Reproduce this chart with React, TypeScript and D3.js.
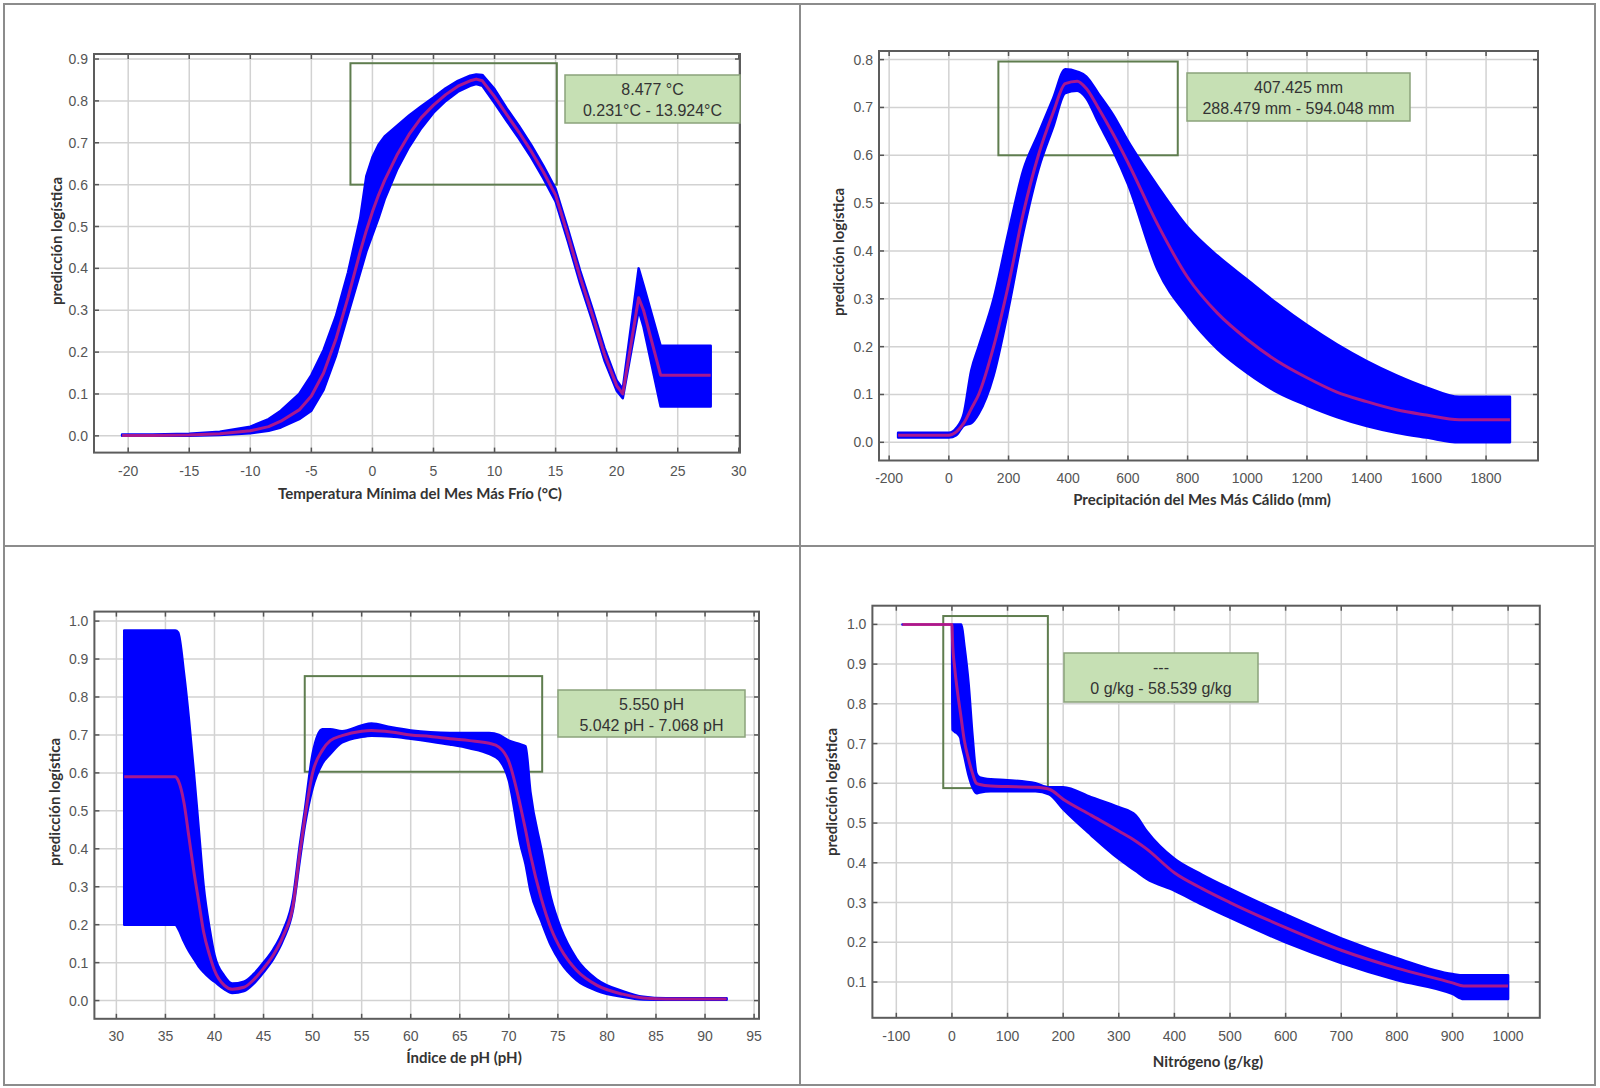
import * as d3 from 'd3';
import React, { useRef, useEffect } from 'react';

// --- Temperatura Mínima del Mes Más Frío (°C) ---
const tempX = [-20.5, -18, -15, -12.5, -10, -8.5, -7.5, -6, -5, -4, -3, -2, -1, -0.5, 0, 0.5, 1, 2, 3, 4, 5, 6, 7, 8, 8.5, 9, 10, 11, 12, 13, 14, 15, 16, 17, 18, 19, 20, 20.5, 21.8, 22.2, 23.6, 27.7];
const tempMean = [0.001, 0.001, 0.002, 0.005, 0.012, 0.022, 0.035, 0.062, 0.095, 0.15, 0.23, 0.33, 0.44, 0.49, 0.535, 0.575, 0.61, 0.67, 0.72, 0.76, 0.79, 0.815, 0.835, 0.848, 0.852, 0.848, 0.81, 0.767, 0.725, 0.68, 0.63, 0.575, 0.48, 0.38, 0.29, 0.195, 0.12, 0.1, 0.33, 0.3, 0.145, 0.145];
const tempLow = [0, 0, 0, 0.002, 0.006, 0.012, 0.02, 0.04, 0.06, 0.11, 0.19, 0.29, 0.39, 0.44, 0.48, 0.52, 0.565, 0.635, 0.69, 0.735, 0.772, 0.8, 0.822, 0.836, 0.84, 0.836, 0.795, 0.752, 0.71, 0.665, 0.615, 0.56, 0.465, 0.365, 0.275, 0.18, 0.108, 0.09, 0.3, 0.26, 0.07, 0.07];
const tempHigh = [0.003, 0.003, 0.005, 0.01, 0.022, 0.04, 0.06, 0.1, 0.145, 0.205, 0.285, 0.39, 0.52, 0.62, 0.665, 0.695, 0.715, 0.74, 0.765, 0.787, 0.808, 0.83, 0.848, 0.86, 0.863, 0.862, 0.828, 0.782, 0.74, 0.695, 0.645, 0.59, 0.495, 0.395, 0.305, 0.21, 0.132, 0.112, 0.4, 0.36, 0.215, 0.215];
const tempXTicks = [-20, -15, -10, -5, 0, 5, 10, 15, 20, 25, 30];
const tempYTicks = [0, 0.1, 0.2, 0.3, 0.4, 0.5, 0.6, 0.7, 0.8, 0.9];
const tempBox = [-1.8, 15.1, 0.6, 0.89];
const tempLabel = ['8.477 °C', '0.231°C - 13.924°C'];

// --- Precipitación del Mes Más Cálido (mm) ---
const precX = [-170, 0, 25, 50, 75, 100, 150, 200, 250, 300, 350, 390, 430, 460, 500, 550, 600, 700, 800, 900, 1000, 1100, 1200, 1300, 1400, 1500, 1600, 1710, 1880];
const precMean = [0.015, 0.015, 0.022, 0.04, 0.07, 0.1, 0.2, 0.33, 0.48, 0.6, 0.69, 0.75, 0.755, 0.74, 0.7, 0.645, 0.585, 0.455, 0.345, 0.27, 0.215, 0.17, 0.135, 0.105, 0.085, 0.068, 0.057, 0.047, 0.047];
const precLow = [0.01, 0.01, 0.015, 0.035, 0.04, 0.06, 0.14, 0.28, 0.44, 0.57, 0.66, 0.73, 0.735, 0.72, 0.67, 0.61, 0.54, 0.36, 0.265, 0.195, 0.145, 0.105, 0.077, 0.053, 0.034, 0.02, 0.01, 0, 0];
const precHigh = [0.02, 0.02, 0.03, 0.06, 0.15, 0.2, 0.3, 0.44, 0.57, 0.645, 0.72, 0.78, 0.775, 0.765, 0.73, 0.685, 0.63, 0.535, 0.45, 0.39, 0.34, 0.29, 0.245, 0.205, 0.17, 0.14, 0.115, 0.095, 0.095];
const precXTicks = [-200, 0, 200, 400, 600, 800, 1000, 1200, 1400, 1600, 1800];
const precYTicks = [0, 0.1, 0.2, 0.3, 0.4, 0.5, 0.6, 0.7, 0.8];
const precBox = [166, 767, 0.6, 0.796];
const precLabel = ['407.425 mm', '288.479 mm - 594.048 mm'];

// --- Índice de pH (pH) ---
const phX = [30.8, 36.0, 36.3, 36.9, 37.4, 37.9, 38.4, 38.9, 39.5, 40, 41, 41.8, 43, 44, 45, 46, 47, 48, 48.7, 49.2, 50, 51, 51.8, 53, 55, 56, 58, 60, 62, 64, 66, 68, 69, 70, 71.2, 71.7, 72.2, 73.3, 74.3, 75.3, 76.9, 79, 81.6, 83.7, 86, 92.2];
const phMean = [0.59, 0.59, 0.58, 0.52, 0.43, 0.34, 0.26, 0.18, 0.12, 0.08, 0.04, 0.03, 0.035, 0.055, 0.085, 0.12, 0.17, 0.25, 0.39, 0.48, 0.6, 0.66, 0.685, 0.698, 0.71, 0.712, 0.708, 0.7, 0.696, 0.69, 0.685, 0.678, 0.668, 0.63, 0.51, 0.45, 0.385, 0.27, 0.19, 0.136, 0.08, 0.04, 0.017, 0.007, 0.004, 0.004];
const phLow = [0.2, 0.2, 0.19, 0.155, 0.13, 0.11, 0.09, 0.075, 0.06, 0.05, 0.03, 0.02, 0.025, 0.045, 0.075, 0.11, 0.16, 0.24, 0.37, 0.46, 0.56, 0.625, 0.65, 0.68, 0.695, 0.698, 0.696, 0.69, 0.683, 0.675, 0.665, 0.65, 0.635, 0.58, 0.41, 0.36, 0.29, 0.21, 0.145, 0.1, 0.054, 0.026, 0.01, 0.003, 0.002, 0.002];
const phHigh = [0.975, 0.975, 0.97, 0.86, 0.74, 0.6, 0.45, 0.3, 0.19, 0.12, 0.065, 0.045, 0.05, 0.07, 0.1, 0.135, 0.185, 0.27, 0.41, 0.5, 0.65, 0.715, 0.715, 0.71, 0.725, 0.73, 0.72, 0.712, 0.707, 0.705, 0.705, 0.705, 0.7, 0.685, 0.675, 0.67, 0.55, 0.4, 0.27, 0.19, 0.11, 0.055, 0.025, 0.01, 0.006, 0.006];
const phXTicks = [30, 35, 40, 45, 50, 55, 60, 65, 70, 75, 80, 85, 90, 95];
const phYTicks = [0, 0.1, 0.2, 0.3, 0.4, 0.5, 0.6, 0.7, 0.8, 0.9, 1.0];
const phBox = [49.2, 73.4, 0.603, 0.855];
const phLabel = ['5.550 pH', '5.042 pH - 7.068 pH'];

// --- Nitrógeno (g/kg) ---
const nitX = [-89, 0, 1, 5, 10, 15, 17, 22, 30, 37, 44, 50, 70, 100, 150, 175, 200, 250, 300, 330, 350, 400, 450, 500, 600, 700, 800, 900, 920, 1000];
const nitMean = [1, 1, 0.96, 0.89, 0.83, 0.78, 0.76, 0.71, 0.66, 0.625, 0.6, 0.597, 0.593, 0.592, 0.59, 0.585, 0.56, 0.52, 0.48, 0.455, 0.435, 0.375, 0.335, 0.3, 0.237, 0.18, 0.135, 0.098, 0.09, 0.09];
const nitLow = [1, 1, 0.735, 0.73, 0.725, 0.715, 0.7, 0.67, 0.62, 0.59, 0.575, 0.577, 0.58, 0.58, 0.58, 0.572, 0.535, 0.47, 0.41, 0.38, 0.36, 0.33, 0.295, 0.262, 0.2, 0.148, 0.105, 0.07, 0.057, 0.057];
const nitHigh = [1, 1, 1, 1, 1, 1, 1, 0.95, 0.85, 0.72, 0.625, 0.615, 0.61, 0.608, 0.6, 0.59, 0.59, 0.565, 0.54, 0.52, 0.48, 0.41, 0.37, 0.335, 0.27, 0.21, 0.16, 0.12, 0.117, 0.117];
const nitXTicks = [-100, 0, 100, 200, 300, 400, 500, 600, 700, 800, 900, 1000];
const nitYTicks = [0.1, 0.2, 0.3, 0.4, 0.5, 0.6, 0.7, 0.8, 0.9, 1.0];
const nitBox = [-15.6, 172.5, 0.588, 1.021];
const nitLabel = ['---', '0 g/kg - 58.539 g/kg'];

const yTitle = 'predicción logística';

type Panel = {
  frame: number[];
  xDomain: number[];
  yDomain: number[];
  xTicks: number[];
  yTicks: number[];
  xs: number[];
  mean: number[];
  lo: number[];
  hi: number[];
  box: number[];
  labelRect: number[];
  labelLines: string[];
  xTitle: string;
  xTitlePos: number[];
  yTitlePos: number[];
  xTickY: number;
  smooth: boolean;
};

const panels: Panel[] = [
  {
    frame: [94, 54, 740, 452.6], xDomain: [-22.8, 30.1], yDomain: [-0.04, 0.912],
    xTicks: tempXTicks, yTicks: tempYTicks, xs: tempX, mean: tempMean, lo: tempLow, hi: tempHigh,
    box: tempBox, labelRect: [565, 75, 175, 48], labelLines: tempLabel,
    xTitle: 'Temperatura Mínima del Mes Más Frío (°C)', xTitlePos: [420, 493], yTitlePos: [56, 241], xTickY: 471,
    smooth: false,
  },
  {
    frame: [879, 51, 1538, 460.5], xDomain: [-234, 1974], yDomain: [-0.038, 0.818],
    xTicks: precXTicks, yTicks: precYTicks, xs: precX, mean: precMean, lo: precLow, hi: precHigh,
    box: precBox, labelRect: [1187, 73, 223, 48], labelLines: precLabel,
    xTitle: 'Precipitación del Mes Más Cálido (mm)', xTitlePos: [1202, 498.5], yTitlePos: [838, 252], xTickY: 478,
    smooth: true,
  },
  {
    frame: [94.4, 611.6, 759, 1018.8], xDomain: [27.76, 95.5], yDomain: [-0.048, 1.025],
    xTicks: phXTicks, yTicks: phYTicks, xs: phX, mean: phMean, lo: phLow, hi: phHigh,
    box: phBox, labelRect: [558, 690, 187, 47], labelLines: phLabel,
    xTitle: 'Índice de pH (pH)', xTitlePos: [464, 1057], yTitlePos: [54, 802], xTickY: 1036,
    smooth: true,
  },
  {
    frame: [872.4, 605.7, 1539.8, 1017.8], xDomain: [-143, 1057], yDomain: [0.01, 1.047],
    xTicks: nitXTicks, yTicks: nitYTicks, xs: nitX, mean: nitMean, lo: nitLow, hi: nitHigh,
    box: nitBox, labelRect: [1064, 653, 194, 49], labelLines: nitLabel,
    xTitle: 'Nitrógeno (g/kg)', xTitlePos: [1208, 1061], yTitlePos: [831, 792], xTickY: 1035.5,
    smooth: true,
  },
];

const drawPanel = (svg: any, p: Panel) => {
  const [l, t, r, b] = p.frame;
  const x = d3.scaleLinear().domain(p.xDomain).range([l, r]);
  const y = d3.scaleLinear().domain(p.yDomain).range([b, t]);
  const g = svg.append('g');
  const inX = p.xTicks.filter((d) => x(d) >= l - 0.5 && x(d) <= r + 0.5);

  // grid
  g.selectAll(null).data(inX).enter().append('line')
    .attr('x1', (d) => x(d)).attr('x2', (d) => x(d))
    .attr('y1', t).attr('y2', b)
    .attr('stroke', '#d2d2d2').attr('stroke-width', 1.5);
  g.selectAll(null).data(p.yTicks).enter().append('line')
    .attr('x1', l).attr('x2', r)
    .attr('y1', (d) => y(d)).attr('y2', (d) => y(d))
    .attr('stroke', '#d2d2d2').attr('stroke-width', 1.5);

  // tick marks on all four sides
  const tick = 5;
  [[b, -tick], [t, tick]].forEach(([yy, dy]) => {
    g.selectAll(null).data(inX).enter().append('line')
      .attr('x1', (d) => x(d)).attr('x2', (d) => x(d))
      .attr('y1', yy).attr('y2', yy + dy)
      .attr('stroke', '#555').attr('stroke-width', 1.5);
  });
  [[l, tick], [r, -tick]].forEach(([xx, dx]) => {
    g.selectAll(null).data(p.yTicks).enter().append('line')
      .attr('x1', xx).attr('x2', xx + dx)
      .attr('y1', (d) => y(d)).attr('y2', (d) => y(d))
      .attr('stroke', '#555').attr('stroke-width', 1.5);
  });

  g.append('rect')
    .attr('x', l).attr('y', t).attr('width', r - l).attr('height', b - t)
    .attr('fill', 'none').attr('stroke', '#5c5c5c').attr('stroke-width', 2);

  // tick labels
  g.selectAll(null).data(p.xTicks).enter().append('text')
    .attr('x', (d) => x(d)).attr('y', p.xTickY)
    .attr('text-anchor', 'middle').attr('dominant-baseline', 'central')
    .attr('font-family', 'Liberation Sans, Arial, sans-serif').attr('font-size', 14)
    .attr('fill', '#555')
    .text((d) => String(d));
  g.selectAll(null).data(p.yTicks).enter().append('text')
    .attr('x', l - 6).attr('y', (d) => y(d))
    .attr('text-anchor', 'end').attr('dominant-baseline', 'central')
    .attr('font-family', 'Liberation Sans, Arial, sans-serif').attr('font-size', 14)
    .attr('fill', '#555')
    .text((d) => d3.format('.1f')(d));

  // zoom box
  const [bx0, bx1, by0, by1] = p.box;
  g.append('rect')
    .attr('x', x(bx0)).attr('y', y(by1))
    .attr('width', x(bx1) - x(bx0)).attr('height', y(by0) - y(by1))
    .attr('fill', 'none').attr('stroke', '#5f7d4f').attr('stroke-width', 2);

  const rows = p.xs.map((v, i) => ({ x: v, m: p.mean[i], lo: p.lo[i], hi: p.hi[i] }));
  const curve = p.smooth ? d3.curveMonotoneX : d3.curveLinear;
  const area = d3.area<any>()
    .x((d) => x(d.x)).y0((d) => y(d.lo)).y1((d) => y(d.hi))
    .curve(curve);
  const line = d3.line<any>()
    .x((d) => x(d.x)).y((d) => y(d.m))
    .curve(curve);

  g.append('path').datum(rows)
    .attr('d', area)
    .attr('fill', '#0000ff').attr('stroke', '#0000ff')
    .attr('stroke-width', 2.5).attr('stroke-linejoin', 'round');
  g.append('path').datum(rows)
    .attr('d', line)
    .attr('fill', 'none').attr('stroke', '#e0206a').attr('stroke-opacity', 0.75)
    .attr('stroke-width', 3).attr('stroke-linejoin', 'round');

  // value label
  const [lx, ly, lw, lh] = p.labelRect;
  g.append('rect')
    .attr('x', lx).attr('y', ly).attr('width', lw).attr('height', lh)
    .attr('fill', '#c6e0b4').attr('stroke', '#8ba37b').attr('stroke-width', 1.5);
  g.selectAll(null).data(p.labelLines).enter().append('text')
    .attr('x', lx + lw / 2).attr('y', (d, i) => ly + 19.5 + i * 21.5)
    .attr('text-anchor', 'middle')
    .attr('font-family', 'Liberation Sans, Arial, sans-serif').attr('font-size', 16)
    .attr('fill', '#333')
    .text((d) => d);

  // axis titles
  g.append('text')
    .attr('x', p.xTitlePos[0]).attr('y', p.xTitlePos[1])
    .attr('text-anchor', 'middle').attr('dominant-baseline', 'central')
    .attr('font-family', 'Lato, sans-serif').attr('font-weight', 'bold').attr('font-size', 15)
    .attr('fill', '#333')
    .text(p.xTitle);
  g.append('text')
    .attr('transform', `translate(${p.yTitlePos[0]},${p.yTitlePos[1]}) rotate(-90)`)
    .attr('text-anchor', 'middle').attr('dominant-baseline', 'central')
    .attr('font-family', 'Lato, sans-serif').attr('font-weight', 'bold').attr('font-size', 15)
    .attr('fill', '#333')
    .text(yTitle);
};

const App = () => {
  const ref = useRef<SVGSVGElement>(null);

  useEffect(() => {
    const svg = d3.select(ref.current);
    svg.selectAll('*').remove();
    svg.append('rect').attr('width', 1600).attr('height', 1088).attr('fill', '#fff');

    // panel borders
    svg.append('rect')
      .attr('x', 4).attr('y', 4).attr('width', 1591).attr('height', 1081)
      .attr('fill', 'none').attr('stroke', '#8c8c8c').attr('stroke-width', 2);
    svg.append('line').attr('x1', 800).attr('x2', 800).attr('y1', 4).attr('y2', 1085)
      .attr('stroke', '#8c8c8c').attr('stroke-width', 2);
    svg.append('line').attr('x1', 4).attr('x2', 1595).attr('y1', 546).attr('y2', 546)
      .attr('stroke', '#8c8c8c').attr('stroke-width', 2);

    panels.forEach((p) => drawPanel(svg, p));
  }, []);

  return (
    <svg
      ref={ref}
      width={1600}
      height={1088}
      style={{ position: 'absolute', left: 0, top: 0 }}
    />
  );
};

export default App;
